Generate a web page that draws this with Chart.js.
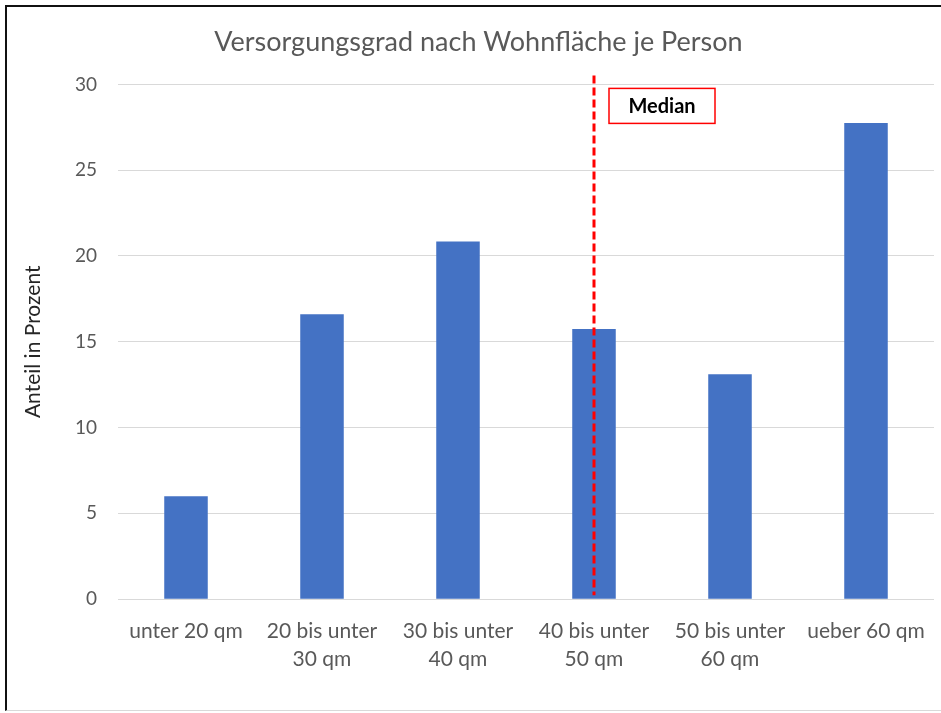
<!DOCTYPE html>
<html>
<head>
<meta charset="utf-8">
<script src="https://cdn.jsdelivr.net/npm/chart.js@4"></script>
<style>
    html, body { margin: 0; padding: 0; background: #fff; }
    #frame {
        position: absolute;
        left: 5px;
        top: 5px;
        width: 936px;
        height: 706px;
        border-left: 2px solid #111;
        border-top: 2px solid #111;
        border-bottom: 1px solid #d9d9d9;
        box-sizing: border-box;
    }
    #chart { display: block; }
</style>
</head>
<body>
<div id="frame"><canvas id="chart" width="934" height="703"></canvas></div>
<script>
// data
const categories = [
    'unter 20 qm',
    ['20 bis unter', '30 qm'],
    ['30 bis unter', '40 qm'],
    ['40 bis unter', '50 qm'],
    ['50 bis unter', '60 qm'],
    'ueber 60 qm'
];
const shares = [6.0, 16.6, 20.85, 15.75, 13.1, 27.75];
const medianIndex = 3;
const medianLabel = 'Median';
const chartTitle = 'Versorgungsgrad nach Wohnfläche je Person';
const yTitle = 'Anteil in Prozent';

const fontFamily = 'Lato, "Open Sans", sans-serif';

const medianPlugin = {
    id: 'medianMarker',
    afterDatasetsDraw(chart) {
        const { ctx, chartArea, scales } = chart;
        const x = scales.x.getPixelForValue(medianIndex);
        const yTop = scales.y.getPixelForValue(30);

        ctx.save();
        ctx.strokeStyle = '#ff0000';
        ctx.lineWidth = 3;
        ctx.setLineDash([8, 4]);
        ctx.beginPath();
        ctx.moveTo(x, chartArea.top - 9);
        ctx.lineTo(x, chartArea.bottom - 4);
        ctx.stroke();

        // label box
        ctx.setLineDash([]);
        ctx.lineWidth = 1.5;
        const bx = x + 15, by = yTop + 4, bw = 106, bh = 35;
        ctx.fillStyle = '#fff';
        ctx.fillRect(bx, by, bw, bh);
        ctx.strokeRect(bx, by, bw, bh);
        ctx.fillStyle = '#000';
        ctx.font = 'bold 20px ' + fontFamily;
        ctx.textAlign = 'center';
        ctx.textBaseline = 'middle';
        ctx.fillText(medianLabel, bx + bw / 2, by + bh / 2 + 1);
        ctx.restore();
    }
};

const chart = new Chart(document.getElementById('chart'), {
    type: 'bar',
    data: {
        labels: categories,
        datasets: [{
            data: shares,
            backgroundColor: '#4472c4',
            barPercentage: 0.32,
            categoryPercentage: 1.0
        }]
    },
    plugins: [medianPlugin],
    options: {
        responsive: false,
        animation: false,
        layout: {
            padding: { left: 16, right: 7, top: 0, bottom: 27 }
        },
        scales: {
            x: {
                grid: { display: false },
                border: { display: false },
                ticks: {
                    color: '#595959',
                    font: { family: fontFamily, size: 21, lineHeight: 1.33 },
                    padding: 10,
                    maxRotation: 0,
                    autoSkip: false
                }
            },
            y: {
                min: 0,
                max: 30,
                afterFit(scale) {
                    scale.width = 95;
                },
                grid: {
                    color: '#d9d9d9',
                    lineWidth: 1,
                    drawTicks: false
                },
                border: { display: false },
                ticks: {
                    stepSize: 5,
                    color: '#595959',
                    font: { family: fontFamily, size: 19 },
                    padding: 21
                },
                title: {
                    display: true,
                    text: yTitle,
                    color: '#262626',
                    font: { family: fontFamily, size: 21, lineHeight: 1 },
                    padding: { top: 0, bottom: 0 }
                }
            }
        },
        plugins: {
            legend: { display: false },
            tooltip: { enabled: false },
            title: {
                display: true,
                text: chartTitle,
                color: '#595959',
                font: { family: fontFamily, size: 27, weight: 'normal' },
                padding: { top: 19, bottom: 26 }
            }
        }
    }
});
</script>
</body>
</html>
